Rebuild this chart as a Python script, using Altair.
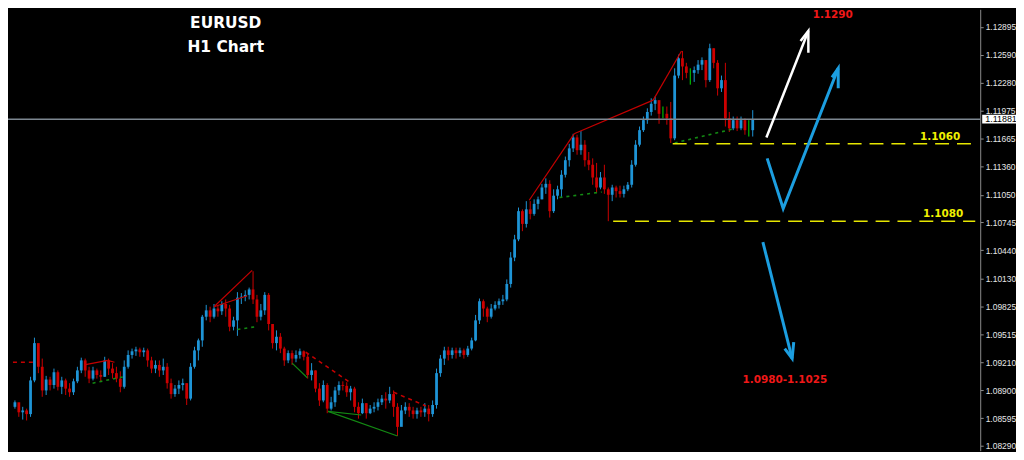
import altair as alt
import pandas as pd

# ---------------- data (EURUSD H1) ----------------
first_open = 1.0872
closes = [
    1.0877, 1.0866, 1.0868, 1.0864, 1.0901, 1.0942, 1.0916, 1.0890, 1.0902, 1.0896,
    1.0910, 1.0894, 1.0901, 1.0892, 1.0888, 1.0900, 1.0912, 1.0923, 1.0912, 1.0903,
    1.0912, 1.0907, 1.0905, 1.0923, 1.0914, 1.0909, 1.0903, 1.0894, 1.0916, 1.0929,
    1.0933, 1.0935, 1.0932, 1.0934, 1.0923, 1.0914, 1.0918, 1.0912, 1.0916, 1.0898,
    1.0886, 1.0892, 1.0896, 1.0898, 1.0881, 1.0916, 1.0934, 1.0945, 1.0971, 1.0978,
    1.0971, 1.0980, 1.0977, 1.0985, 1.0980, 1.0960, 1.0967, 1.0992, 1.0993, 1.0995,
    1.1001, 1.0990, 1.0971, 1.0978, 1.0995, 1.0963, 1.0942, 1.0949, 1.0936, 1.0923,
    1.0931, 1.0925, 1.0929, 1.0933, 1.0927, 1.0907, 1.0912, 1.0892, 1.0879, 1.0896,
    1.0870, 1.0877, 1.0890, 1.0896, 1.0895, 1.0888, 1.0892, 1.0872, 1.0865, 1.0876,
    1.0865, 1.0870, 1.0872, 1.0877, 1.0881, 1.0879, 1.0886, 1.0872, 1.0850, 1.0868,
    1.0872, 1.0868, 1.0864, 1.0868, 1.0866, 1.0870, 1.0864, 1.0874, 1.0909, 1.0925,
    1.0934, 1.0929, 1.0934, 1.0931, 1.0934, 1.0929, 1.0936, 1.0945, 1.0967, 1.0988,
    1.0980, 1.0971, 1.0980, 1.0984, 1.0988, 1.0990, 1.1007, 1.1036, 1.1056, 1.1087,
    1.1073, 1.1089, 1.1084, 1.1095, 1.1100, 1.1113, 1.1117, 1.1087, 1.1104, 1.1111,
    1.1127, 1.1143, 1.1156, 1.1168, 1.1154, 1.1160, 1.1143, 1.1138, 1.1124, 1.1113,
    1.1124, 1.1111, 1.1105, 1.1113, 1.1109, 1.1106, 1.1111, 1.1116, 1.1138, 1.1160,
    1.1176, 1.1187, 1.1196, 1.1205, 1.1209, 1.1194, 1.1194, 1.1189, 1.1167, 1.1236,
    1.1255, 1.1246, 1.1239, 1.1239, 1.1242, 1.1248, 1.1253, 1.1231, 1.1266, 1.1250,
    1.1222, 1.1231, 1.1189, 1.1178, 1.1187, 1.1178, 1.1187, 1.1176, 1.1176, 1.11881,
]
highs = [
    1.0879, 1.0874, 1.0872, 1.0870, 1.0905, 1.0948, 1.0941, 1.0925, 1.0906, 1.0905,
    1.0914, 1.0912, 1.0905, 1.0903, 1.0898, 1.0903, 1.0916, 1.0926, 1.0925, 1.0916,
    1.0916, 1.0914, 1.0912, 1.0927, 1.0925, 1.0920, 1.0916, 1.0911, 1.0923, 1.0934,
    1.0936, 1.0938, 1.0937, 1.0937, 1.0936, 1.0927, 1.0923, 1.0923, 1.0925, 1.0920,
    1.0903, 1.0896, 1.0901, 1.0903, 1.0898, 1.0920, 1.0938, 1.0947, 1.0973, 1.0984,
    1.0982, 1.0985, 1.0984, 1.0988, 1.0990, 1.0984, 1.0971, 1.0998, 1.0997, 1.1000,
    1.1003, 1.1021, 1.0995, 1.0985, 1.0998, 1.0997, 1.0960, 1.0956, 1.0953, 1.0938,
    1.0934, 1.0934, 1.0934, 1.0936, 1.0934, 1.0931, 1.0920, 1.0912, 1.0898, 1.0901,
    1.0898, 1.0883, 1.0894, 1.0900, 1.0900, 1.0899, 1.0895, 1.0894, 1.0877, 1.0881,
    1.0876, 1.0874, 1.0877, 1.0881, 1.0885, 1.0888, 1.0894, 1.0890, 1.0876, 1.0874,
    1.0877, 1.0876, 1.0872, 1.0871, 1.0872, 1.0876, 1.0874, 1.0879, 1.0914, 1.0929,
    1.0938, 1.0938, 1.0937, 1.0937, 1.0937, 1.0936, 1.0939, 1.0948, 1.0973, 1.0991,
    1.0990, 1.0982, 1.0985, 1.0988, 1.0991, 1.0995, 1.1012, 1.1042, 1.1061, 1.1091,
    1.1089, 1.1098, 1.1098, 1.1100, 1.1103, 1.1117, 1.1123, 1.1121, 1.1111, 1.1115,
    1.1132, 1.1147, 1.1161, 1.1172, 1.1171, 1.1175, 1.1165, 1.1152, 1.1145, 1.1140,
    1.1130, 1.1138, 1.1113, 1.1116, 1.1115, 1.1115, 1.1115, 1.1119, 1.1143, 1.1165,
    1.1180, 1.1191, 1.1200, 1.1211, 1.1213, 1.1207, 1.1202, 1.1202, 1.1207, 1.1244,
    1.1259, 1.1263, 1.1250, 1.1244, 1.1246, 1.1253, 1.1256, 1.1253, 1.1271, 1.1266,
    1.1253, 1.1236, 1.1250, 1.1196, 1.1191, 1.1191, 1.1191, 1.1189, 1.1187, 1.1198,
]
lows = [
    1.0870, 1.0861, 1.0858, 1.0857, 1.0861, 1.0899, 1.0909, 1.0883, 1.0885, 1.0890,
    1.0892, 1.0890, 1.0886, 1.0885, 1.0883, 1.0885, 1.0898, 1.0909, 1.0905, 1.0898,
    1.0901, 1.0903, 1.0900, 1.0905, 1.0907, 1.0903, 1.0899, 1.0888, 1.0892, 1.0914,
    1.0925, 1.0928, 1.0927, 1.0927, 1.0916, 1.0909, 1.0909, 1.0905, 1.0907, 1.0892,
    1.0881, 1.0883, 1.0886, 1.0890, 1.0874, 1.0879, 1.0914, 1.0923, 1.0938, 1.0967,
    1.0965, 1.0969, 1.0971, 1.0973, 1.0971, 1.0955, 1.0956, 1.0950, 1.0985, 1.0988,
    1.0990, 1.0985, 1.0965, 1.0967, 1.0973, 1.0956, 1.0936, 1.0934, 1.0931, 1.0917,
    1.0920, 1.0918, 1.0921, 1.0925, 1.0923, 1.0903, 1.0901, 1.0888, 1.0873, 1.0877,
    1.0865, 1.0868, 1.0872, 1.0885, 1.0890, 1.0883, 1.0879, 1.0866, 1.0859, 1.0864,
    1.0859, 1.0864, 1.0866, 1.0868, 1.0874, 1.0870, 1.0876, 1.0861, 1.0840, 1.0854,
    1.0864, 1.0861, 1.0859, 1.0859, 1.0861, 1.0861, 1.0856, 1.0861, 1.0870, 1.0905,
    1.0918, 1.0923, 1.0925, 1.0925, 1.0927, 1.0925, 1.0927, 1.0934, 1.0944, 1.0963,
    1.0971, 1.0965, 1.0969, 1.0978, 1.0980, 1.0984, 1.0988, 1.1003, 1.1032, 1.1054,
    1.1065, 1.1069, 1.1078, 1.1082, 1.1089, 1.1100, 1.1106, 1.1080, 1.1085, 1.1100,
    1.1102, 1.1124, 1.1136, 1.1152, 1.1149, 1.1149, 1.1136, 1.1132, 1.1116, 1.1107,
    1.1111, 1.1106, 1.1076, 1.1098, 1.1102, 1.1102, 1.1102, 1.1109, 1.1113, 1.1136,
    1.1158, 1.1174, 1.1183, 1.1192, 1.1198, 1.1183, 1.1189, 1.1182, 1.1162, 1.1165,
    1.1233, 1.1231, 1.1233, 1.1226, 1.1229, 1.1238, 1.1242, 1.1223, 1.1229, 1.1244,
    1.1214, 1.1218, 1.1180, 1.1174, 1.1176, 1.1175, 1.1176, 1.1171, 1.1169, 1.1169,
]

y_ticks = [1.12895, 1.12590, 1.12280, 1.11975, 1.11665, 1.11360, 1.11050, 1.10745,
           1.10440, 1.10130, 1.09825, 1.09515, 1.09210, 1.08900, 1.08595, 1.08290]
current_price = 1.11881

# horizontal levels (dashed yellow)
level_prices = [1.1161, 1.1076]
level_starts = [168.5, 153.25]
level_labels = ["1.1060", "1.1080"]
level_label_x = [237.0, 237.75]
level_label_y = [1.1168, 1.1084]

# pattern lines: (x1, y1, x2, y2) in bar index / price
red_solid = [(51.0, 1.0982, 60.75, 1.1022), (51.0, 1.0982, 59.5, 1.0994),
             (17.75, 1.0918, 23.75, 1.0923), (23.75, 1.0923, 25.5, 1.0921),
             (131.75, 1.1099, 143.25, 1.1172), (143.25, 1.1172, 163.5, 1.1209),
             (163.5, 1.1209, 170.75, 1.1263)]
red_dashed = [(-0.5, 1.0921, 5.0, 1.0921), (74.5, 1.0932, 85.75, 1.0899),
              (97.0, 1.0888, 105.25, 1.0873)]
green_solid = [(71.0, 1.0920, 74.9, 1.0904), (80.2, 1.0867, 98.0, 1.0840),
               (80.2, 1.0867, 88.7, 1.0863)]
green_dashed = [(19.9, 1.0898, 27.8, 1.0905), (57.0, 1.0957, 61.6, 1.0960),
                (139.5, 1.1102, 150.3, 1.1108), (169.0, 1.1162, 183.7, 1.1177)]

# scenario arrows: polylines of (x, y)
white_arrows = [[(192.5, 1.1168), (203.25, 1.1285)],
                [(201.25, 1.1274), (203.25, 1.1285), (203.25, 1.1261)]]
blue_arrows = [[(192.7, 1.1145), (196.8, 1.1090), (210.9, 1.1244)],
               [(209.3, 1.1234), (210.9, 1.1244), (210.9, 1.1222)],
               [(191.6, 1.1053), (199.1, 1.0925)],
               [(197.2, 1.0936), (199.1, 1.0925), (199.5, 1.0943)]]

title_lines = ["EURUSD", "H1 Chart"]
title_x = [54.0, 54.0]
title_y = [1.1294, 1.1267]

target_labels = ["1.1290", "1.0980-1.1025"]
target_x = [209.5, 197.25]
target_y = [1.1302, 1.0902]

# ---------------- frames ----------------
n = len(closes)
opens = [first_open] + closes[:-1]
candles = pd.DataFrame({"i": list(range(n)), "open": opens, "close": closes,
                        "high": highs, "low": lows})
candles["dir"] = ["up" if c > o else ("down" if c < o else "flat")
                  for o, c in zip(opens, closes)]

def seg_df(segs):
    return pd.DataFrame(segs, columns=["x1", "y1", "x2", "y2"])

def poly_df(polys):
    rows = []
    for k, p in enumerate(polys):
        for j, (x, y) in enumerate(p):
            rows.append({"id": k, "ord": j, "x": x, "y": y})
    return pd.DataFrame(rows)

xs = alt.Scale(domain=[-0.5, 246], nice=False, zero=False)
ys = alt.Scale(domain=[1.08238, 1.13088], nice=False, zero=False)

col = alt.Color("dir:N", legend=None,
                scale=alt.Scale(domain=["up", "down", "flat"],
                                range=["#1e94d6", "#cc0000", "#00e000"]))

yaxis = alt.Axis(orient="right", values=y_ticks, format=".5f", grid=False,
                 domainColor="#8c8c8c", tickColor="#8c8c8c", tickSize=3,
                 labelColor="#e6e6e6", labelFont="Liberation Sans",
                 labelFontSize=8.5, labelPadding=2, title=None,
                 labelOverlap=False, labelFlush=False)

def X(f):
    return alt.X(f, scale=xs, axis=None)

def Y(f):
    return alt.Y(f, scale=ys, axis=yaxis)

wicks = alt.Chart(candles).mark_rule(strokeWidth=1).encode(
    x=X("i:Q"), y=Y("low:Q"), y2="high:Q", color=col)
bodies = alt.Chart(candles).mark_bar(size=2.8).encode(
    x=X("i:Q"), y=Y("open:Q"), y2="close:Q", color=col)

def seg_layer(segs, color, width, dash=None):
    kw = dict(color=color, strokeWidth=width)
    if dash:
        kw["strokeDash"] = dash
    return alt.Chart(seg_df(segs)).mark_rule(**kw).encode(
        x=X("x1:Q"), x2="x2:Q", y=Y("y1:Q"), y2="y2:Q")

pattern = [seg_layer(red_solid, "#c40000", 1.2),
           seg_layer(red_dashed, "#c40000", 1.6, [4, 4]),
           seg_layer(green_solid, "#138a13", 1.2),
           seg_layer(green_dashed, "#138a13", 1.6, [3, 4])]

price_line = alt.Chart(pd.DataFrame({"p": [current_price]})).mark_rule(
    color="#7d8791", strokeWidth=1.5).encode(y=Y("p:Q"))

levels = pd.DataFrame({"p": level_prices, "s": level_starts, "e": [246.0] * 2})
level_lines = alt.Chart(levels).mark_rule(color="#e6e600", strokeWidth=1.5,
                                          strokeDash=[14, 8]).encode(
    x=X("s:Q"), x2="e:Q", y=Y("p:Q"))

level_text = alt.Chart(pd.DataFrame({"x": level_label_x, "y": level_label_y,
                                     "t": level_labels})).mark_text(
    color="#f0f000", font="DejaVu Sans", fontWeight="bold", fontSize=10.5,
    align="center", baseline="middle").encode(
    x=X("x:Q"), y=Y("y:Q"), text="t:N")

def arrow_layer(polys, color, width):
    return alt.Chart(poly_df(polys)).mark_line(color=color, strokeWidth=width,
                                               strokeJoin="miter").encode(
        x=X("x:Q"), y=Y("y:Q"), detail="id:N", order="ord:Q")

arrows = [arrow_layer(white_arrows, "#ffffff", 2.5),
          arrow_layer(blue_arrows, "#1c9ee0", 3)]

titles = alt.Chart(pd.DataFrame({"x": title_x, "y": title_y, "t": title_lines})).mark_text(
    color="white", font="DejaVu Sans", fontWeight="bold", fontSize=15.5,
    align="center", baseline="middle").encode(
    x=X("x:Q"), y=Y("y:Q"), text="t:N")

targets = alt.Chart(pd.DataFrame({"x": target_x, "y": target_y, "t": target_labels})).mark_text(
    color="#f01818", font="DejaVu Sans", fontWeight="bold", fontSize=10.5,
    align="center", baseline="middle").encode(
    x=X("x:Q"), y=Y("y:Q"), text="t:N")

box_df = pd.DataFrame({"p": [current_price], "top": [current_price + 0.00048],
                       "bot": [current_price - 0.00048],
                       "t": [f"{current_price:.5f}"]})
price_box = alt.Chart(box_df).mark_rect(color="white").encode(
    x=alt.value(980), x2=alt.value(1016), y=Y("top:Q"), y2="bot:Q")
price_box_text = alt.Chart(box_df).mark_text(
    color="black", font="Liberation Sans", fontSize=9, align="left",
    baseline="middle").encode(
    x=alt.value(983), y=Y("p:Q"), text="t:N")

chart = alt.layer(
    wicks, bodies, *pattern, price_line, level_lines, level_text,
    *arrows, titles, targets, price_box, price_box_text
).properties(
    width=978, height=444,
    padding={"left": 0, "top": 0, "right": 36, "bottom": 0},
    autosize=alt.AutoSizeParams(type="none"),
).configure(background="black").configure_view(stroke=None)

chart.save("out.html", embed_options={"renderer": "svg", "actions": False})
